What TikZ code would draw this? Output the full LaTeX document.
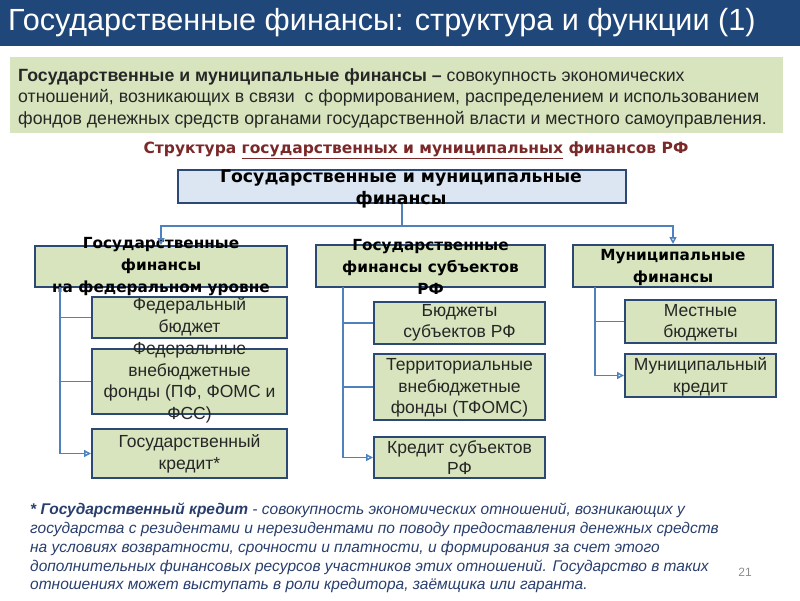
\documentclass[tikz,border=0pt]{standalone}
\usepackage{fontspec}
\setmainfont{Liberation Sans}
\newfontfamily\boxfont{DejaVu Sans}
\usetikzlibrary{arrows.meta}
\definecolor{titleblue}{RGB}{32,71,122}
\definecolor{defgreen}{RGB}{215,228,189}
\definecolor{boxgreen}{RGB}{215,228,189}
\definecolor{topfill}{RGB}{220,230,242}
\definecolor{boxborder}{RGB}{44,72,116}
\definecolor{linecol}{RGB}{79,129,189}
\definecolor{subred}{RGB}{122,40,40}
\definecolor{footblue}{RGB}{40,62,108}
\definecolor{pagegrey}{RGB}{140,140,140}
\begin{document}
\begin{tikzpicture}[x=1pt,y=-1pt,
  gbox/.style={draw=boxborder, fill=boxgreen, line width=2pt, inner sep=0pt, rectangle},
  tbox/.style={draw=boxborder, fill=topfill, line width=2pt, inner sep=0pt, rectangle},
  ttext/.style={font=\boxfont\bfseries\fontsize{17.3}{22}\selectfont, align=center, inner sep=0pt, text=black},
  btext/.style={font=\boxfont\bfseries\fontsize{15.3}{22}\selectfont, align=center, inner sep=0pt, text=black},
  ctext/.style={font=\fontsize{17.5}{21.5}\selectfont, align=center, inner sep=0pt, text=black!85},
  conn/.style={draw=linecol, line width=1.5pt},
  arr/.style={conn, -{Triangle[open,length=7pt,width=7pt]}}
]
\useasboundingbox (0,0) rectangle (800,600);
% title
\node[fill=titleblue, minimum width=800, minimum height=46, inner sep=0pt, anchor=north west] (titlebar) at (0,0) {};
\node[anchor=west, text=white, font=\fontsize{30.6}{36}\selectfont, inner sep=0pt] (title) at (8,23) {Государственные финансы: структура и функции (1)};
% definition
\node[fill=defgreen, minimum width=773, minimum height=76, inner sep=0pt] (defbox) at (396.5,95) {};
\node[anchor=north west, align=left, inner sep=0pt, text=black!85, font=\fontsize{17.7}{21.5}\selectfont] (deftext) at (18,68)
 {\textbf{Государственные и муниципальные финансы –} совокупность экономических\\
  отношений, возникающих в связи\ \ с формированием, распределением и использованием\\
  фондов денежных средств органами государственной власти и местного самоуправления.};
% subtitle
\node[text=subred, font=\boxfont\bfseries\fontsize{15.5}{18}\selectfont, inner sep=0pt] (subtitle) at (416,150)
 {Структура \underline{государственных и муниципальных} финансов РФ};
% top box
\node[tbox, minimum width=448, minimum height=33] (top) at (402,186.5) {};
\node[ttext] (toptext) at (401,189) {Государственные и муниципальные\\финансы};
% level 2
\node[gbox, minimum width=252, minimum height=41] (fed) at (161,266.5) {};
\node[btext] (fedtext) at (161,266.5) {Государственные\\финансы\\на федеральном уровне};
\node[gbox, minimum width=229, minimum height=42] (reg) at (430.5,266) {};
\node[btext] (regtext) at (430.5,267) {Государственные\\финансы субъектов\\РФ};
\node[gbox, minimum width=200, minimum height=42] (mun) at (673,266) {};
\node[btext] (muntext) at (673,268) {Муниципальные\\финансы};
% left children
\node[gbox, minimum width=195, minimum height=41] (fb) at (189.5,317.5) {};
\node[ctext] (fbtext) at (189.5,316.5) {Федеральный\\бюджет};
\node[gbox, minimum width=195, minimum height=65] (fvf) at (189.5,381.5) {};
\node[ctext] (fvftext) at (189.5,382.5) {Федеральные\\внебюджетные\\фонды (ПФ, ФОМС и\\ФСС)};
\node[gbox, minimum width=195, minimum height=49] (gk) at (189.5,453.5) {};
\node[ctext] (gktext) at (189.5,454) {Государственный\\кредит*};
% middle children
\node[gbox, minimum width=171, minimum height=42] (bs) at (459.5,323) {};
\node[ctext] (bstext) at (459.5,323) {Бюджеты\\субъектов РФ};
\node[gbox, minimum width=171, minimum height=66] (tf) at (459.5,387) {};
\node[ctext] (tftext) at (459.5,388) {Территориальные\\внебюджетные\\фонды (ТФОМС)};
\node[gbox, minimum width=171, minimum height=41] (ks) at (459.5,457.5) {};
\node[ctext] (kstext) at (459.5,457.5) {Кредит субъектов\\РФ};
% right children
\node[gbox, minimum width=151, minimum height=43] (mb) at (700.5,321.5) {};
\node[ctext] (mbtext) at (700.5,322.5) {Местные\\бюджеты};
\node[gbox, minimum width=151, minimum height=43] (mk) at (700.5,375.5) {};
\node[ctext] (mktext) at (700.5,377) {Муниципальный\\кредит};
% connectors
\coordinate (bar) at (402,226);
\draw[conn] (top.south) -- (bar);
\draw[arr] (bar) -| (fed.north);
\draw[arr] (bar) -| (mun.north);
\coordinate (lt) at (60,287);
\draw[conn] (lt) |- (fb.west);
\draw[conn] (lt) |- (fvf.west);
\draw[arr] (lt) |- (gk.west);
\coordinate (mt) at (343,287);
\draw[conn] (mt) |- (bs.west);
\draw[conn] (mt) |- (tf.west);
\draw[arr] (mt) |- (ks.west);
\coordinate (rt) at (595,287);
\draw[conn] (rt) |- (mb.west);
\draw[arr] (rt) |- (mk.west);
% footnote
\node[anchor=north west, align=left, inner sep=0pt, text=footblue, font=\itshape\fontsize{15.5}{18.75}\selectfont] (foot) at (30,503)
 {\textbf{* Государственный кредит} - совокупность экономических отношений, возникающих у\\
  государства с резидентами и нерезидентами по поводу предоставления денежных средств\\
  на условиях возвратности, срочности и платности, и формирования за счет этого\\
  дополнительных финансовых ресурсов участников этих отношений. Государство в таких\\
  отношениях может выступать в роли кредитора, заёмщика или гаранта.};
\node[text=pagegrey, font=\fontsize{12}{14}\selectfont, inner sep=0pt] (pagenum) at (745,572) {21};
\end{tikzpicture}
\end{document}
